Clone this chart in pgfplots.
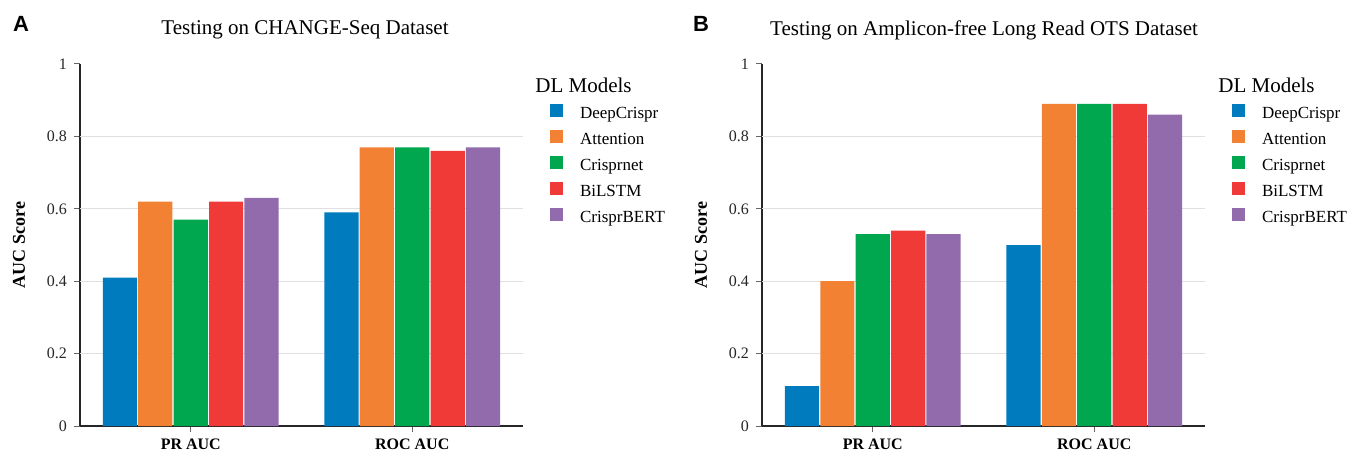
\documentclass[border=0pt]{standalone}
\usepackage{pgfplots}
\pgfplotsset{compat=1.18}
\usepackage{pgfplotstable}
\usepackage{fontspec}
\setmainfont{Liberation Serif}
\newfontfamily\letterfont{Liberation Sans}

\definecolor{cDeep}{RGB}{0,123,190}
\definecolor{cAtt}{RGB}{243,129,52}
\definecolor{cNet}{RGB}{0,167,79}
\definecolor{cLstm}{RGB}{239,58,56}
\definecolor{cBert}{RGB}{146,107,173}

% columns: 0 = PR AUC, 1 = ROC AUC
\pgfplotstableread{
cat deep att cnet lstm bert
0 0.41 0.62 0.57 0.62 0.63
1 0.59 0.77 0.77 0.76 0.77
}\dataA
\pgfplotstableread{
cat deep att cnet lstm bert
0 0.11 0.40 0.53 0.54 0.53
1 0.50 0.89 0.89 0.89 0.86
}\dataB

\pgfplotsset{
  auc/.style={
    width=221.5pt, height=181pt, scale only axis,
    ybar=0.6pt, bar width=17.1pt,
    xmin=-0.5, xmax=1.5, ymin=0, ymax=1,
    xtick={0,1}, xticklabels={PR AUC,ROC AUC},
    ytick={0,0.2,0.4,0.6,0.8,1},
    yticklabels={0,0.2,0.4,0.6,0.8,1},
    /pgf/number format/assume math mode=true,
    axis x line*=bottom, axis y line*=left,
    axis line style={draw=black!85, line width=0.6pt},
    tick align=outside, major tick length=3pt,
    tick style={draw=black!60, line width=0.5pt},
    extra y ticks={0.2,0.4,0.6,0.8}, extra y tick labels={},
    extra y tick style={ymajorgrids=true, major tick length=0pt,
      major grid style={draw=black!12, line width=0.5pt}},
    yticklabel style={font=\rmfamily\fontsize{8}{10}\selectfont, text=black!85},
    xticklabel style={font=\fontsize{8}{10}\selectfont\bfseries},
    ylabel={AUC Score},
    ylabel style={font=\fontsize{9}{10}\selectfont\bfseries,
      at={(rel axis cs:-0.1377,0.5)}, anchor=center},
    legend style={at={(rel axis cs:1.061,0.89)}, anchor=north west,
      draw=none, fill=none, inner sep=0pt, outer sep=0pt,
      font=\fontsize{8.5}{10}\selectfont, row sep=3.5pt,
      nodes={text height=6pt, text depth=2pt, inner sep=0pt},
      /tikz/every odd column/.append style={column sep=8.5pt}},
    legend cell align=left,
    legend image code/.code={\fill[#1] (0pt,-1pt) rectangle (6.5pt,5.5pt);},
    clip=false,
  },
  bar/.style={fill=#1, draw=none},
}

\begin{document}
\begin{tikzpicture}
\path (0,0) rectangle (675.5pt,227.5pt);

\begin{axis}[auc, at={(40pt,14.5pt)}]
\addplot[bar=cDeep] table[x=cat,y=deep]{\dataA};
\addplot[bar=cAtt]  table[x=cat,y=att]{\dataA};
\addplot[bar=cNet]  table[x=cat,y=cnet]{\dataA};
\addplot[bar=cLstm] table[x=cat,y=lstm]{\dataA};
\addplot[bar=cBert] table[x=cat,y=bert]{\dataA};
\legend{DeepCrispr,Attention,Crisprnet,BiLSTM,CrisprBERT}
\end{axis}

\begin{axis}[auc, at={(381pt,14.5pt)}]
\addplot[bar=cDeep] table[x=cat,y=deep]{\dataB};
\addplot[bar=cAtt]  table[x=cat,y=att]{\dataB};
\addplot[bar=cNet]  table[x=cat,y=cnet]{\dataB};
\addplot[bar=cLstm] table[x=cat,y=lstm]{\dataB};
\addplot[bar=cBert] table[x=cat,y=bert]{\dataB};
\legend{DeepCrispr,Attention,Crisprnet,BiLSTM,CrisprBERT}
\end{axis}

\node[font=\fontsize{10.5}{12}\selectfont] at (152.5pt,212.5pt) {Testing on CHANGE-Seq Dataset};
\node[font=\fontsize{10.5}{12}\selectfont] at (492pt,212.5pt) {Testing on Amplicon-free Long Read OTS Dataset};
\node[font=\letterfont\bfseries\fontsize{11}{12}\selectfont] at (10.5pt,215.5pt) {A};
\node[font=\letterfont\bfseries\fontsize{11}{12}\selectfont] at (350.5pt,215.5pt) {B};
\node[anchor=west, font=\fontsize{10.5}{12}\selectfont, inner sep=0pt] at (267.5pt,185pt) {DL Models};
\node[anchor=west, font=\fontsize{10.5}{12}\selectfont, inner sep=0pt] at (609pt,185pt) {DL Models};
\end{tikzpicture}
\end{document}
